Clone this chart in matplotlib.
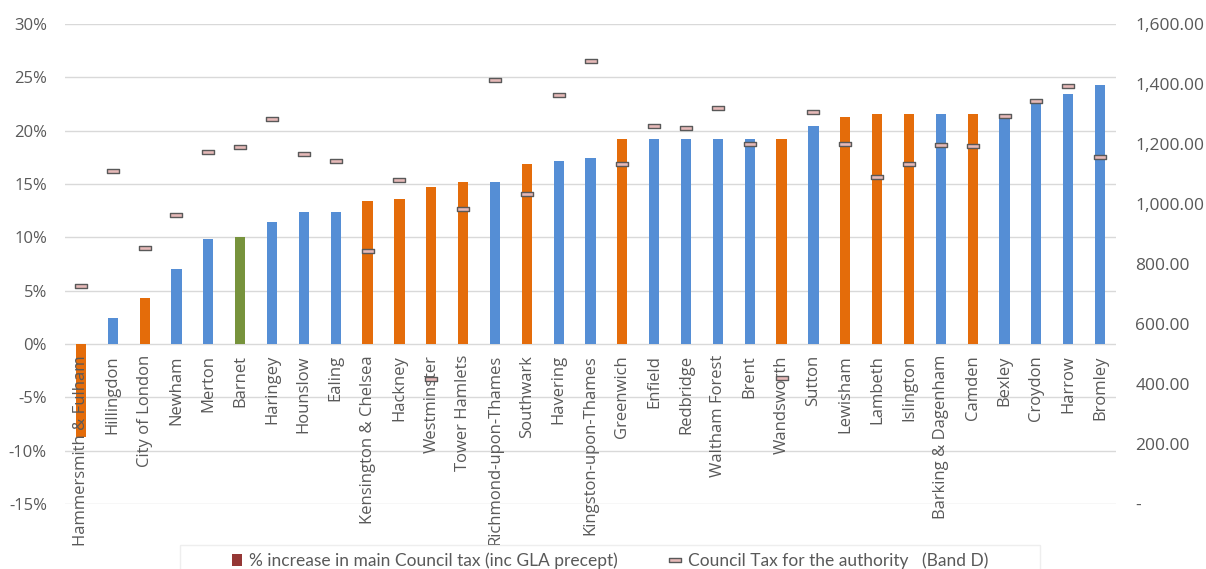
import numpy as np
import matplotlib.pyplot as plt
from matplotlib.path import Path
from matplotlib.lines import Line2D
from matplotlib.patches import Patch, Rectangle
from matplotlib.ticker import FuncFormatter

# London boroughs, ordered by % increase
boroughs = ["Hammersmith & Fulham", "Hillingdon", "City of London", "Newham", "Merton",
            "Barnet", "Haringey", "Hounslow", "Ealing", "Kensington & Chelsea", "Hackney",
            "Westminster", "Tower Hamlets", "Richmond-upon-Thames", "Southwark", "Havering",
            "Kingston-upon-Thames", "Greenwich", "Enfield", "Redbridge", "Waltham Forest",
            "Brent", "Wandsworth", "Sutton", "Lewisham", "Lambeth", "Islington",
            "Barking & Dagenham", "Camden", "Bexley", "Croydon", "Harrow", "Bromley"]

# inner / outer London, Barnet highlighted
group = ["inner", "outer", "inner", "outer", "outer", "barnet", "outer", "outer", "outer",
         "inner", "inner", "inner", "inner", "outer", "inner", "outer", "outer", "inner",
         "outer", "outer", "outer", "outer", "inner", "outer", "inner", "inner", "inner",
         "outer", "inner", "outer", "outer", "outer", "outer"]

pct_increase = [-8.7, 2.4, 4.3, 7.0, 9.8, 10.0, 11.45, 12.4, 12.4, 13.4, 13.6, 14.75, 15.15,
                15.2, 16.9, 17.2, 17.4, 19.2, 19.2, 19.2, 19.2, 19.2, 19.2, 20.4, 21.3, 21.55,
                21.55, 21.55, 21.55, 21.55, 22.75, 23.4, 24.25]

band_d = [726, 1111, 855, 963, 1173, 1189, 1282, 1166, 1145, 845, 1079, 417, 985, 1412,
          1033, 1363, 1476, 1133, 1260, 1255, 1319, 1201, 420, 1308, 1201, 1090, 1133,
          1198, 1192, 1293, 1342, 1393, 1157]

colours = {"inner": "#E46C0A", "outer": "#558ED5", "barnet": "#77933C"}
txt = "#595959"

plt.rcParams['font.family'] = ['Open Sans', 'DejaVu Sans']

fig = plt.figure(figsize=(12.06, 5.69), dpi=100)
ax = fig.add_axes([65 / 1206, 1 - 504 / 569, (1116 - 65) / 1206, (504 - 24) / 569])

x = np.arange(len(boroughs))
ax.bar(x, pct_increase, width=0.32, color=[colours[g] for g in group], zorder=2)

ax.set_xlim(-0.5, len(boroughs) - 0.5)
ax.set_ylim(-15, 30)
ax.set_yticks(np.arange(-15, 31, 5))
ax.yaxis.set_major_formatter(FuncFormatter(lambda v, p: "%d%%" % v))
ax.grid(axis='y', color='#D9D9D9', linewidth=1, zorder=0)
ax.set_axisbelow(True)
for s in ax.spines.values():
    s.set_visible(False)
ax.spines['bottom'].set_position(('data', 0))

ax.set_xticks(x)
ax.set_xticklabels(boroughs, rotation=90, fontsize=12, color=txt, va='top')
ax.tick_params(axis='x', length=0, pad=8)
ax.tick_params(axis='y', length=0, pad=13, labelsize=12, labelcolor=txt)
# category labels sit on top of the bars, as in Excel
ax.xaxis.set_zorder(2.5)

# council tax markers on the secondary axis
dash = Path([(-1, -0.25), (1, -0.25), (1, 0.25), (-1, 0.25), (-1, -0.25)],
            [Path.MOVETO, Path.LINETO, Path.LINETO, Path.LINETO, Path.CLOSEPOLY])
ax2 = ax.twinx()
ax2.plot(x, band_d, linestyle='none', marker=dash, markersize=9,
         markerfacecolor='#E6B9B8', markeredgecolor='#595959', markeredgewidth=1, zorder=3)
ax2.set_ylim(0, 1600)
ax2.set_yticks(np.arange(0, 1601, 200))
ax2.yaxis.set_major_formatter(FuncFormatter(lambda v, p: "-" if v == 0 else "{:,.2f}".format(v)))
ax2.tick_params(axis='y', length=0, pad=14, labelsize=12.5, labelcolor=txt)
for s in ax2.spines.values():
    s.set_visible(False)

handles = [Patch(facecolor='#953735', edgecolor='none'),
           Line2D([], [], linestyle='none', marker=dash, markersize=9,
                  markerfacecolor='#E6B9B8', markeredgecolor='#595959', markeredgewidth=1)]
labels = ["% increase in main Council tax (inc GLA precept)",
          "Council Tax for the authority   (Band D)"]
leg = fig.legend(handles, labels, loc='center', bbox_to_anchor=(610 / 1206, 1 - 561 / 569),
                 ncol=2, frameon=False, columnspacing=3.0, handlelength=0.6,
                 handletextpad=0.4, prop={'family': ['Lato', 'DejaVu Sans'], 'size': 12.5})
for t in leg.get_texts():
    t.set_color(txt)

# faint legend box, running off the bottom edge
fig.patches.append(Rectangle((180 / 1206, -0.05), (1040 - 180) / 1206, 0.05 + 24 / 569,
                             transform=fig.transFigure, fill=False, edgecolor='#EEEEEE',
                             linewidth=1))

fig.savefig("out.png", dpi=100)
